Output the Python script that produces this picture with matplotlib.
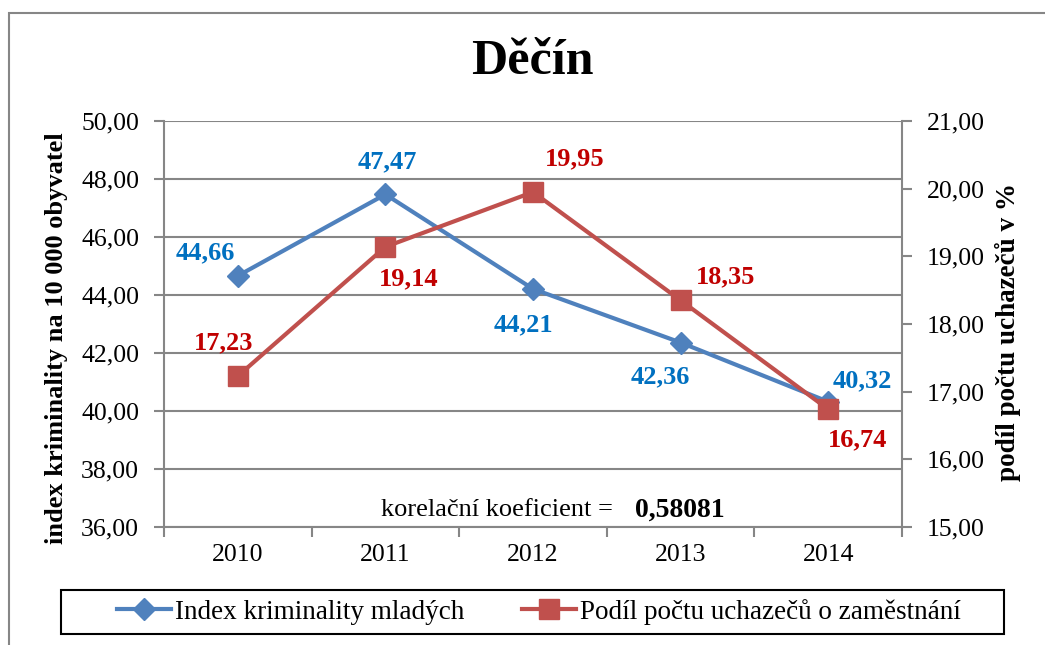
import matplotlib
matplotlib.use('Agg')
import matplotlib.pyplot as plt
from matplotlib.patches import Rectangle
from matplotlib.lines import Line2D

plt.rcParams['font.family'] = ['Liberation Serif', 'DejaVu Serif']

years = ['2010', '2011', '2012', '2013', '2014']
kriminalita = [44.66, 47.47, 44.21, 42.36, 40.32]
uchazeci = [17.23, 19.14, 19.95, 18.35, 16.74]
korelace = '0,58081'

blue_line = '#4F81BD'
red_line = '#C0504D'
blue_txt = '#0070C0'
red_txt = '#C00000'
grey = '#868686'

W, H = 1045, 645
fig = plt.figure(figsize=(W / 100, H / 100), dpi=100)

def fx(px):
    return px / W

def fy(py):
    return 1 - py / H

ax = fig.add_axes([fx(164), fy(527), fx(902) - fx(164), fy(121) - fy(527)])
ax2 = ax.twinx()

x = list(range(len(years)))
ax.plot(x, kriminalita, color=blue_line, lw=3, marker='D', ms=11, zorder=3)
ax2.plot(x, uchazeci, color=red_line, lw=3, marker='s', ms=14, zorder=3)

ax.set_xlim(-0.5, 4.5)
ax.set_ylim(36, 50)
ax2.set_ylim(15, 21)
ax.set_yticks(range(36, 51, 2))
ax2.set_yticks(range(15, 22))
ax.yaxis.grid(True, color=grey, lw=1.5)
ax.set_axisbelow(True)

fmt = lambda v, p: f'{v:.2f}'.replace('.', ',')
ax.yaxis.set_major_formatter(plt.FuncFormatter(fmt))
ax2.yaxis.set_major_formatter(plt.FuncFormatter(fmt))

ax.set_xticks(x)
ax.set_xticklabels(years)
ax.set_xticks([i - 0.5 for i in range(6)], minor=True)
ax.tick_params(axis='x', which='major', length=0, pad=12, labelsize=18.5)
ax.tick_params(axis='x', which='minor', length=7, width=1.5, color=grey, direction='out')
ax.tick_params(axis='y', length=7, width=1.5, color=grey, pad=11, labelsize=18.5)
ax2.tick_params(axis='y', length=7, width=1.5, color=grey, pad=11, labelsize=18.5)

for a in (ax, ax2):
    for s in a.spines.values():
        s.set_visible(False)
ax.spines['left'].set_visible(True)
ax.spines['bottom'].set_visible(True)
ax2.spines['right'].set_visible(True)
for s in (ax.spines['left'], ax.spines['bottom'], ax2.spines['right']):
    s.set_color(grey)
    s.set_linewidth(1.5)

# data labels (offsets in pixels)
blue_off = [(-32, 23), (2, 33), (-10, -36), (-20, -34), (34, 21)]
red_off = [(-14, 33), (23, -32), (42, 33), (45, 24), (29, -31)]
for i, v in enumerate(kriminalita):
    ax.annotate(f'{v:.2f}'.replace('.', ','), (i, v), xytext=blue_off[i],
                textcoords='offset pixels', ha='center', va='center',
                color=blue_txt, fontsize=19, fontweight='bold', zorder=5)
for i, v in enumerate(uchazeci):
    ax2.annotate(f'{v:.2f}'.replace('.', ','), (i, v), xytext=red_off[i],
                 textcoords='offset pixels', ha='center', va='center',
                 color=red_txt, fontsize=19, fontweight='bold', zorder=5)

fig.text(fx(532), fy(62), 'Děčín', ha='center', va='center', fontsize=36, fontweight='bold')
fig.text(fx(57), fy(338), 'index kriminality na 10 000 obyvatel', rotation=90,
         ha='center', va='center', fontsize=19, fontweight='bold')
fig.text(fx(1008), fy(332), 'podíl počtu uchazečů v %', rotation=90,
         ha='center', va='center', fontsize=19.5, fontweight='bold')

fig.text(fx(381), fy(510), 'korelační koeficient =', ha='left', va='center', fontsize=19)
fig.text(fx(635), fy(510), korelace, ha='left', va='center', fontsize=20, fontweight='bold')

# legend
handles = [Line2D([], [], color=blue_line, lw=3, marker='D', ms=11),
           Line2D([], [], color=red_line, lw=3, marker='s', ms=14)]
labels = ['Index kriminality mladých', 'Podíl počtu uchazečů o zaměstnání']
fig.legend(handles, labels, loc='center', bbox_to_anchor=(fx(539), fy(612)),
           ncol=2, frameon=False, fontsize=19.5, handlelength=2.0,
           handletextpad=0.15, columnspacing=2.1)
fig.add_artist(Rectangle((fx(61), fy(634)), fx(1004) - fx(61), fy(590) - fy(634),
                         transform=fig.transFigure, fill=False, ec='black', lw=1.5))

# outer chart border
fig.add_artist(Rectangle((fx(9), fy(660)), fx(1060) - fx(9), fy(13) - fy(660),
                         transform=fig.transFigure, fill=False, ec=grey, lw=1.5,
                         clip_on=False))

fig.savefig('out.png', dpi=100)
